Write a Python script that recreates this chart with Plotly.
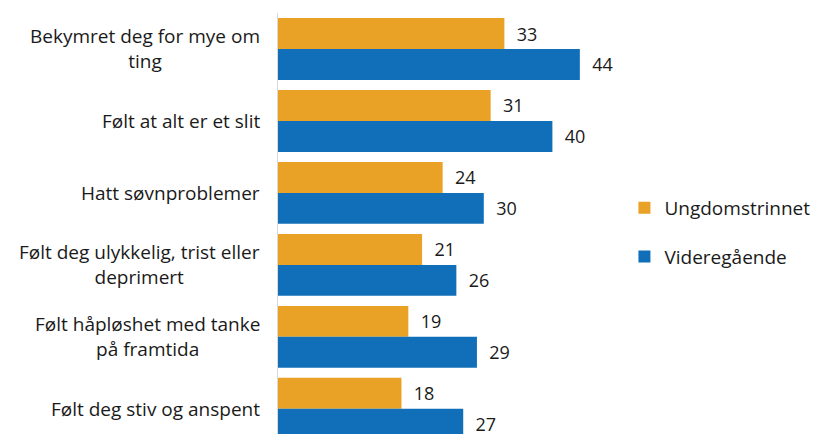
import plotly.graph_objects as go

categories = [
    "Bekymret deg for mye om<br>ting",
    "Følt at alt er et slit",
    "Hatt søvnproblemer",
    "Følt deg ulykkelig, trist eller<br>deprimert",
    "Følt håpløshet med tanke<br>på framtida",
    "Følt deg stiv og anspent",
]
ungdomstrinnet = [33, 31, 24, 21, 19, 18]
videregaende = [44, 40, 30, 26, 29, 27]

orange = "#E9A126"
blue = "#106FB8"
font_family = "Open Sans, Roboto, sans-serif"
text_color = "#1a1a1a"

fig = go.Figure()
fig.add_trace(
    go.Bar(
        y=categories, x=ungdomstrinnet, orientation="h", name="Ungdomstrinnet",
        marker=dict(color=orange, line=dict(width=0)),
        text=ungdomstrinnet, texttemplate="\u00a0\u00a0%{x}",
        textposition="outside", cliponaxis=False,
        textfont=dict(size=18, color=text_color), legendgroup="a",
    )
)
fig.add_trace(
    go.Bar(
        y=categories, x=videregaende, orientation="h", name="Videregående",
        marker=dict(color=blue, line=dict(width=0)),
        text=videregaende, texttemplate="\u00a0\u00a0%{x}",
        textposition="outside", cliponaxis=False,
        textfont=dict(size=18, color=text_color), legendgroup="b",
    )
)

# category labels as centred multi-line annotations
annotations = []
for c in categories:
    annotations.append(
        dict(
            x=0, y=c, xref="paper", yref="y", xanchor="right", xshift=-16,
            text=c, showarrow=False, align="center",
            font=dict(size=19, color=text_color, family=font_family),
        )
    )

# page body adds an 8px offset, so sizes are trimmed by 8
fig.update_layout(
    width=811, height=426,
    margin=dict(l=270, r=198, t=5, b=0),
    barmode="group", bargap=0.14, bargroupgap=0,
    plot_bgcolor="white", paper_bgcolor="white",
    font=dict(family=font_family, color=text_color),
    annotations=annotations,
    xaxis=dict(range=[0, 50], visible=False),
    yaxis=dict(
        categoryorder="array", categoryarray=categories,
        range=[5.35, -0.5], showticklabels=False, ticks="",
        showline=True, linecolor="#d9d9d9", linewidth=1, showgrid=False,
        zeroline=False,
    ),
    legend=dict(
        x=1.01, y=0.479, yanchor="middle", xanchor="left",
        font=dict(size=19, color=text_color, family=font_family),
        traceorder="grouped", tracegroupgap=21,
        itemwidth=30,
    ),
)

fig.write_html("out.html")
